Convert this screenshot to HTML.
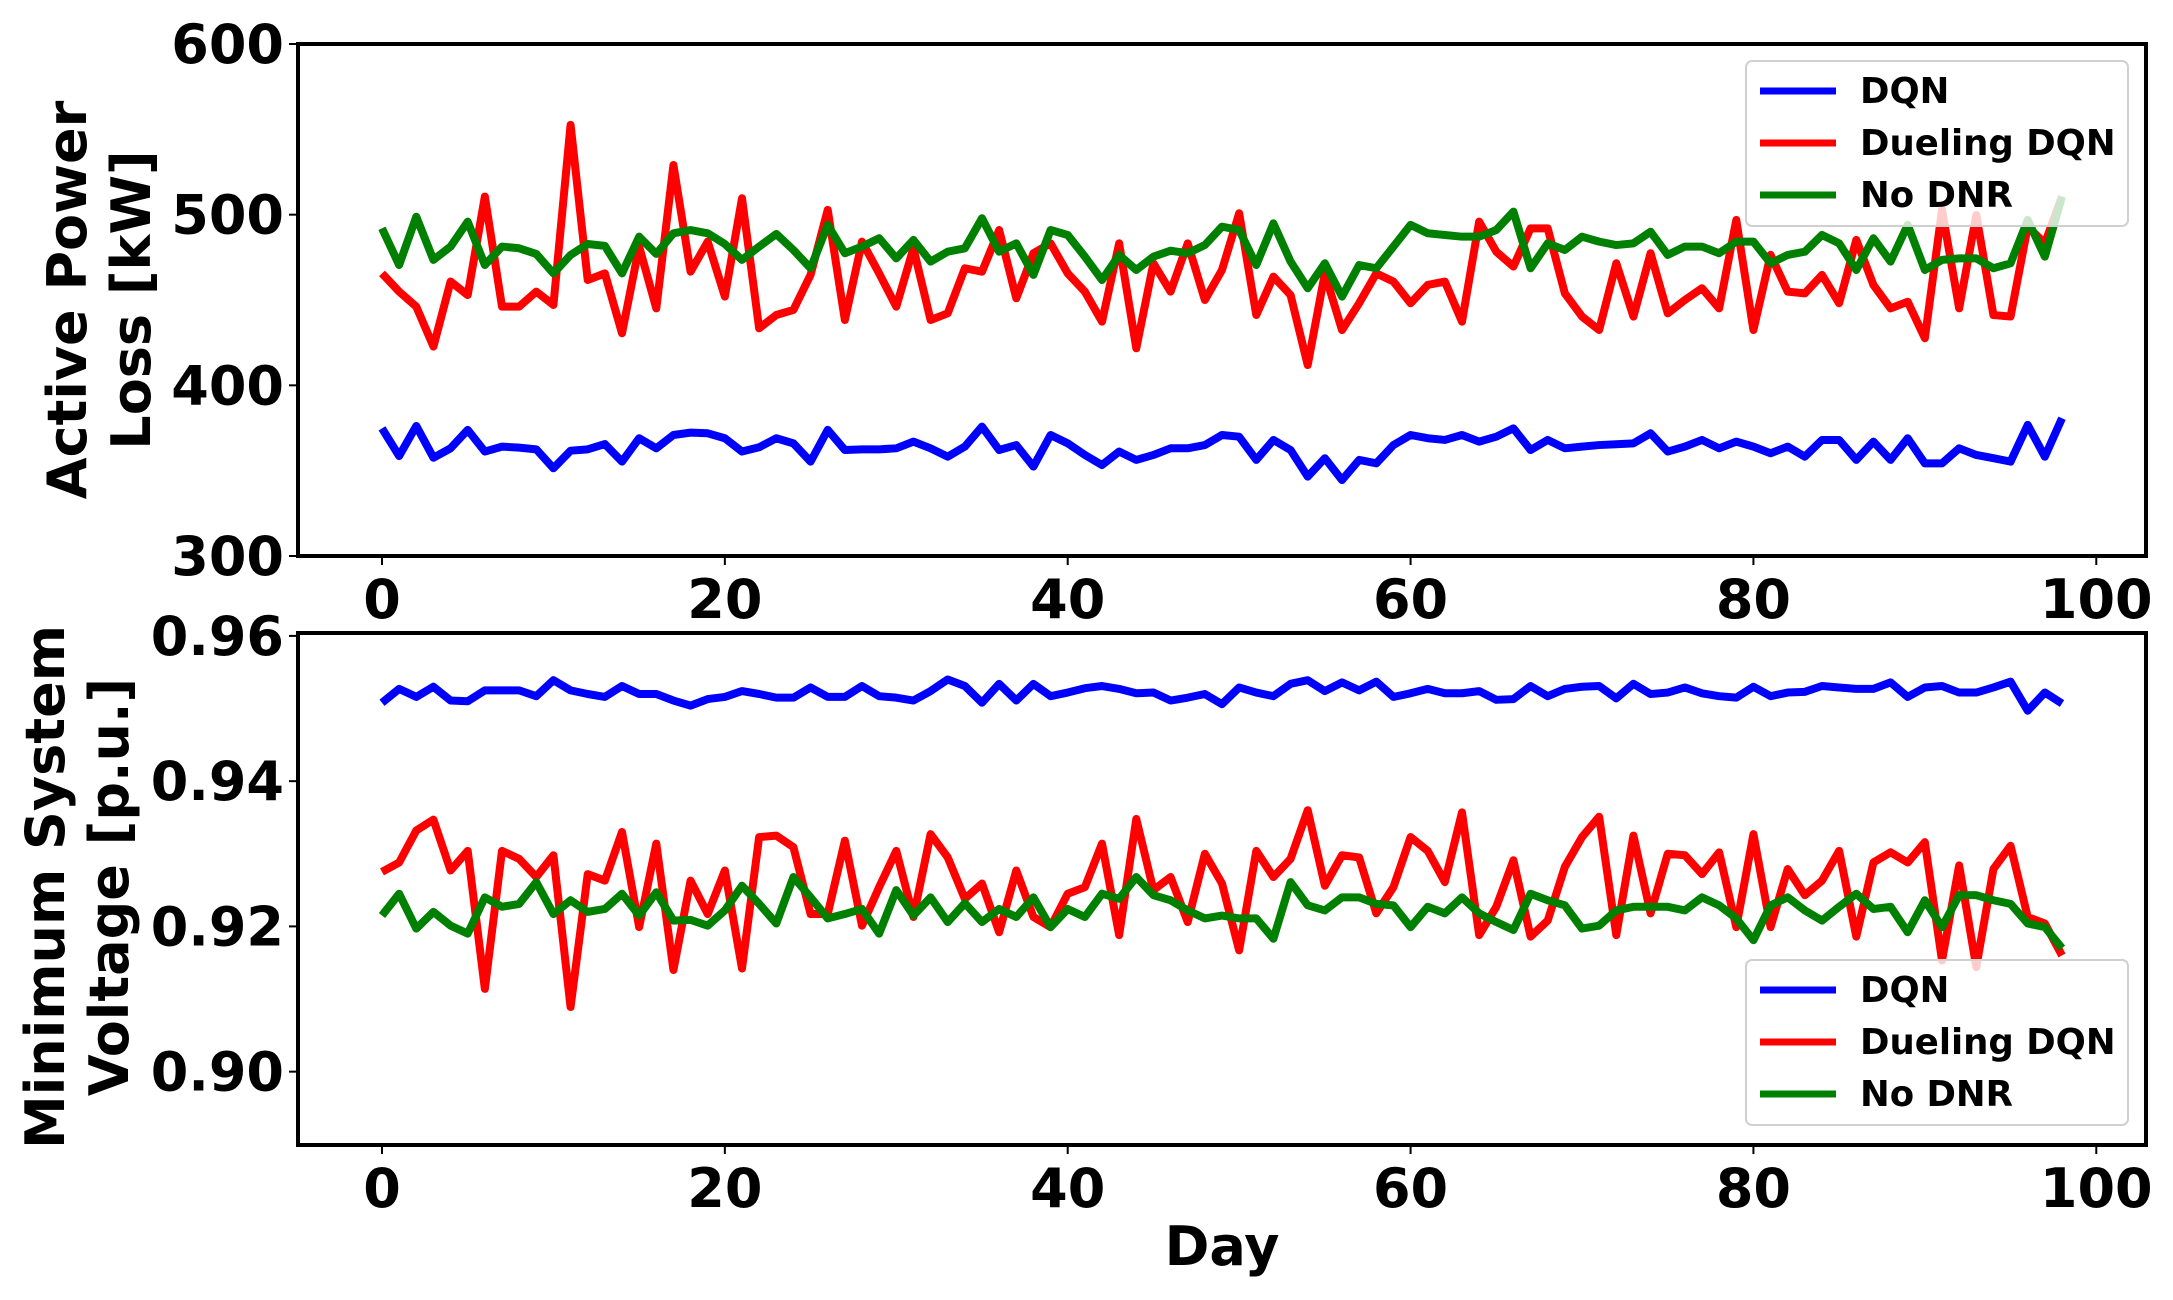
<!DOCTYPE html>
<html><head><meta charset="utf-8"><style>
body{margin:0;background:#fff}
svg text{font-family:"DejaVu Sans","Liberation Sans",sans-serif;font-weight:bold;fill:#000}
</style></head><body>
<svg id="chart" width="2173" height="1295" viewBox="0 0 2173 1295" xmlns="http://www.w3.org/2000/svg">
<rect width="2173" height="1295" fill="#fff"/>
<g id="top"></g>
<g id="bot"></g>
</svg>
<script>
const days = Array.from({length:99},(_,i)=>i);
const xTicks=[0,20,40,60,80,100];
const lossTicks=[300,400,500,600];
const voltTicks=[0.90,0.92,0.94,0.96];
const voltTickLabels=["0.90","0.92","0.94","0.96"];
const seriesNames=["DQN","Dueling DQN","No DNR"];
const seriesColors=["#0000ff","#ff0000","#008000"];
const lossDQN=[374.8,358.6,376.2,357.6,363.1,373.9,361.2,364.1,363.5,362.5,351.4,361.7,362.5,365.6,355.3,369,363.1,370.9,372.3,371.9,369,361.2,363.7,369,366,355.3,373.9,362.1,362.5,362.5,363.1,367,363.1,358.2,
364.1,375.8,362.1,365,352.4,370.9,366,359.2,353.3,361.2,356.3,359.2,363.1,363.1,365,370.9,369.9,356.3,368,362.1,346.5,357.3,344.5,356.3,354.3,365,370.9,369,368,370.9,367,369.9,374.8,
362.1,368,363.1,364.1,365,365.5,366,371.9,361.2,364.1,368,363.1,367,364.1,360.2,364.1,358.2,368,368,356.3,367,356.3,369,354.3,354.3,363.1,359.2,357.3,355.3,376.8,358.2,380.7];
const lossDueling=[465.6,454.9,446.1,422.7,460.8,452.9,510.6,446.1,446.1,454.9,447.1,552.6,461.7,465.6,430.5,481.3,445.1,529.1,466.6,484.2,452,509.6,433.4,441.2,444.2,464.7,502.8,438.3,484.2,465.6,446.1,480.3,438.3,442.2,
468.6,466.6,491,451,477.4,483.2,465.6,454.9,437.3,483.2,421.7,471.5,454.9,483.2,450,467.6,500.8,441.2,463.7,452.9,411.9,465.6,432.4,448.1,465.6,460.8,448.1,458.8,460.8,437.3,495.9,478.3,469.6,
492,492,453.9,440.3,432.4,471.5,440.3,477.4,442.2,450,456.9,445.1,496.9,432.4,476.4,454.9,453.9,464.7,448.1,485.2,458.8,445.1,449,427.6,502.8,445.1,499.8,441.2,440.3,493,483.2,510.6];
const lossNoDNR=[492,470.5,498.8,473.5,481.3,495.9,470.5,481.3,480.3,477,465.6,476.4,482.8,481.7,465.6,487.1,477,489.1,491,489.1,482.8,473.5,481.3,488.7,479.3,468.6,494,477.4,481.3,486.2,474.4,485.2,472.5,478.3,
480.3,497.9,478.3,483.2,464.7,491,488.1,475.4,461.7,476.4,467.6,475.4,478.9,477.4,482.2,493,491,470.5,494.9,472.5,456.9,471.5,452,470.5,468.6,481.3,494,489.1,488.1,487.1,487.1,491,501.8,
468.6,483.2,479.3,487.1,484.2,482.2,483.2,490,476.4,481.3,481.3,477.4,484.2,484.2,471.5,476.4,478.3,488.1,483.2,467.6,486.2,472.5,494,467.6,473.5,474.4,474.4,468.6,471.5,496.9,475.4,510.6];
const voltDQN=[.9508,.9527,.9516,.9530,.9511,.9510,.9525,.9525,.9525,.9517,.9539,.9525,.9520,.9516,.9531,.9520,.9520,.9511,.9504,.9513,.9516,.9524,.9520,.9515,.9515,.9529,.9516,.9516,.9531,.9517,.9515,.9511,
.9524,.9540,.9531,.9508,.9534,.9511,.9534,.9517,.9522,.9528,.9531,.9527,.9521,.9522,.9511,.9515,.9520,.9506,.9529,.9522,.9517,.9534,.9539,.9524,.9536,.9525,.9537,.9516,.9521,.9527,.9521,.9521,.9524,.9512,.9513,
.9531,.9517,.9527,.9530,.9531,.9514,.9534,.9520,.9522,.9529,.9521,.9517,.9515,.9530,.9517,.9522,.9523,.9531,.9529,.9527,.9527,.9536,.9516,.9529,.9531,.9522,.9522,.9529,.9537,.9497,.9522,.9507];
const voltDueling=[.9275,.9288,.9332,.9347,.9277,.9304,.9114,.9304,.9293,.9268,.9298,.9089,.9272,.9263,.9330,.9199,.9314,.9140,.9263,.9217,.9277,.9142,.9323,.9325,.9309,.9217,.9217,.9318,.9201,.9254,.9304,.9213,
.9327,.9295,.9238,.9259,.9192,.9277,.9213,.9199,.9245,.9254,.9314,.9188,.9348,.9250,.9268,.9206,.9300,.9259,.9167,.9304,.9268,.9293,.9360,.9256,.9298,.9295,.9218,.9254,.9323,.9304,.9261,.9357,.9188,.9227,.9291,
.9186,.9208,.9282,.9323,.9351,.9188,.9325,.9218,.9300,.9298,.9272,.9302,.9199,.9327,.9199,.9279,.9243,.9263,.9304,.9186,.9288,.9302,.9288,.9316,.9153,.9284,.9144,.9279,.9311,.9213,.9204,.9160];
const voltNoDNR=[.9215,.9245,.9197,.9220,.9201,.9190,.9240,.9227,.9231,.9261,.9217,.9236,.9220,.9224,.9245,.9215,.9247,.9208,.9209,.9201,.9222,.9256,.9231,.9204,.9268,.9240,.9211,.9217,.9224,.9190,.9250,.9215,.9240,.9206,
.9232,.9206,.9224,.9213,.9240,.9199,.9224,.9213,.9245,.9238,.9268,.9243,.9236,.9222,.9211,.9215,.9211,.9211,.9183,.9261,.9229,.9222,.9240,.9240,.9231,.9229,.9199,.9227,.9218,.9240,.9218,.9206,.9195,
.9245,.9236,.9229,.9197,.9201,.9222,.9227,.9227,.9227,.9222,.9240,.9229,.9211,.9181,.9229,.9240,.9222,.9208,.9227,.9245,.9224,.9227,.9192,.9236,.9199,.9243,.9243,.9236,.9231,.9204,.9199,.9170];

const NS="http://www.w3.org/2000/svg";
function mk(parent,tag,attrs){const e=document.createElementNS(NS,tag);for(const k in attrs)e.setAttribute(k,attrs[k]);parent.appendChild(e);return e;}
const L=298,R=2146,xmin=-4.9,xmax=102.9;
const xs=v=>L+(v-xmin)/(xmax-xmin)*(R-L);

function panel(g,T,B,ymin,ymax,ticks,tickLabels,series,legendY){
  const ys=v=>B-(v-ymin)/(ymax-ymin)*(B-T);
  series.forEach((s,i)=>{
    const p=mk(g,'polyline',{points:s.map((v,j)=>xs(days[j])+','+ys(v)).join(' '),fill:'none',stroke:seriesColors[i],'stroke-width':8,'stroke-linejoin':'round'});
    
    
  });
  const fr=mk(g,'rect',{x:L,y:T,width:R-L,height:B-T,fill:'none',stroke:'#000','stroke-width':4});
  
  
  ticks.forEach((t,i)=>{
    const y=ys(t);
    mk(g,'line',{x1:L-9,x2:L,y1:y,y2:y,stroke:'#000','stroke-width':2});
    const tx=mk(g,'text',{x:L-14,y:y+19,'text-anchor':'end','font-size':54});
    tx.textContent=tickLabels[i];
    
    
  });
  xTicks.forEach(t=>{
    const x=xs(t);
    mk(g,'line',{x1:x,x2:x,y1:B,y2:B+9,stroke:'#000','stroke-width':2});
    const tx=mk(g,'text',{x:x,y:B+62,'text-anchor':'middle','font-size':54});
    tx.textContent=String(t);
    
    
  });
  const lg=mk(g,'g',{});
  
  
  mk(lg,'rect',{x:1746,y:legendY,width:382,height:165,rx:6,fill:'#fff','fill-opacity':0.8,stroke:'#d0d0d0','stroke-width':2});
  seriesNames.forEach((n,i)=>{
    const y=legendY+30+i*52;
    const e=mk(lg,'g',{});
    
    
    mk(e,'line',{x1:1760,x2:1836,y1:y,y2:y,stroke:seriesColors[i],'stroke-width':7});
    const t=mk(e,'text',{x:1860,y:y+12,'font-size':35.5});
    t.textContent=n;
  });
}
panel(document.getElementById('top'),44,556,300,600,lossTicks,lossTicks.map(String),[lossDQN,lossDueling,lossNoDNR],61);
panel(document.getElementById('bot'),633,1145,0.8899,0.9604,voltTicks,voltTickLabels,[voltDQN,voltDueling,voltNoDNR],960);

const svg=document.getElementById('chart');
function label(txt,x,y,rot,name){const t=mk(svg,'text',{x:x,y:y,'text-anchor':'middle','font-size':54,transform:rot?`rotate(-90 ${x} ${y})`:''});t.textContent=txt;

}
label('Active Power',86,300,true,'y-axis-title-top-line1');
label('Loss [kW]',150,300,true,'y-axis-title-top-line2');
label('Minimum System',64,887,true,'y-axis-title-bottom-line1');
label('Voltage [p.u.]',128,887,true,'y-axis-title-bottom-line2');
label('Day',1222,1265,false,'x-axis-title');
</script>
</body></html>
